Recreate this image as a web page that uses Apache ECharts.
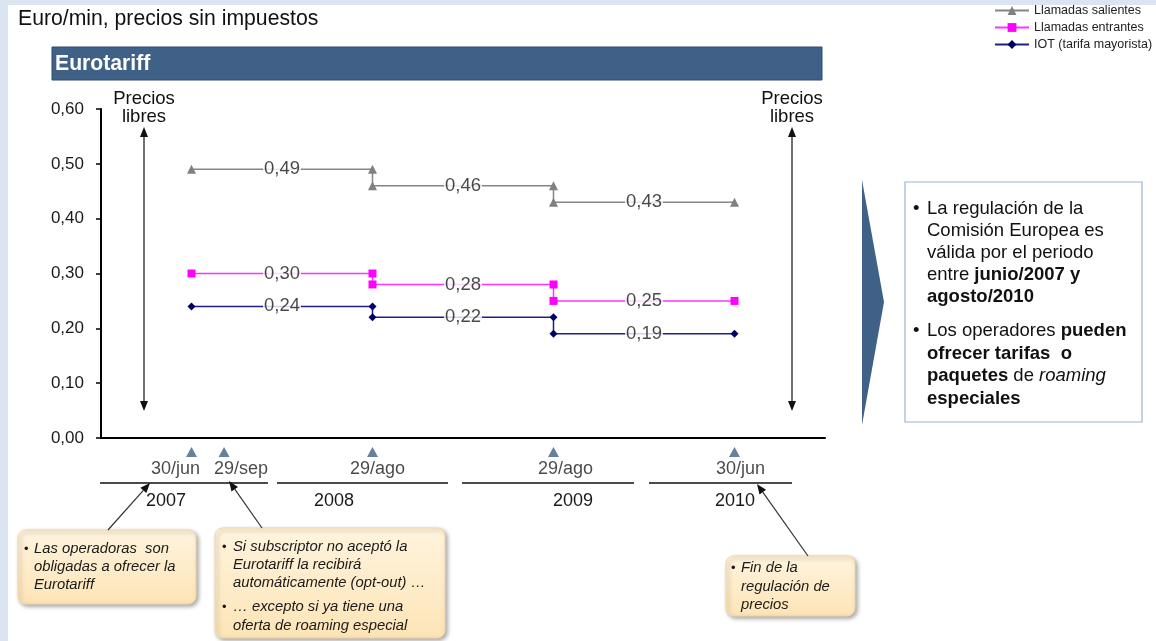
<!DOCTYPE html>
<html>
<head>
<meta charset="utf-8">
<script src="https://cdn.jsdelivr.net/npm/echarts@6/dist/echarts.min.js"></script>
<style>
html,body{margin:0;padding:0;background:#fff;}
#c{width:1156px;height:641px;}
</style>
</head>
<body>
<div id="c"></div>
<script>
// ---- data ----
const periodStarts = ['30/jun/2007', '29/ago/2008', '29/ago/2009', '30/jun/2010'];
const salientes = [0.49, 0.46, 0.43];
const entrantes = [0.30, 0.28, 0.25];
const iot = [0.24, 0.22, 0.19];
const seriesNames = ['Llamadas salientes', 'Llamadas entrantes', 'IOT (tarifa mayorista)'];
const yTicks = [0, 0.1, 0.2, 0.3, 0.4, 0.5, 0.6];
const timelineLabels = ['30/jun', '29/sep', '29/ago', '29/ago', '30/jun'];
const timelinePos = [0, 0.18, 1, 2, 3];
const years = ['2007', '2008', '2009', '2010'];

const FONT = 'Liberation Sans, Arial, sans-serif';
const fmt = v => v.toFixed(2).replace('.', ',');

function stepPoints(vals) {
  const pts = [];
  vals.forEach((v, k) => { pts.push([k, v]); pts.push([k + 1, v]); });
  return pts;
}
function midLabels(vals) {
  return vals.map((v, k) => [k + 0.5, v]);
}

const chart = echarts.init(document.getElementById('c'), null, {renderer: 'canvas'});

const labelStyle = {
  show: true, position: 'inside', formatter: p => fmt(p.value[1]),
  fontFamily: FONT, fontSize: 18.5, color: '#1a1a1a',
  backgroundColor: '#ffffff', padding: [0, 1]
};

function lineSeries(name, vals, color, symbol, size, symColor) {
  return {
    name, type: 'line', data: stepPoints(vals), xAxisIndex: 0, yAxisIndex: 0,
    symbol, symbolSize: size, showAllSymbol: true,
    lineStyle: {color, width: 1.5}, itemStyle: {color: symColor || color},
    z: 3, animation: false
  };
}
function labelSeries(vals) {
  return {
    type: 'scatter', data: midLabels(vals), symbolSize: 0, xAxisIndex: 0, yAxisIndex: 0,
    label: labelStyle, z: 5, silent: true, animation: false
  };
}

const timelineData = timelinePos.map((p, i) => ({value: [p, 0.5], name: timelineLabels[i]}));
const timelineOffsets = [[-16, 0], [17, 0], [5, 0], [12, 0], [6, 0]];
timelineData.forEach((d, i) => {
  d.label = {offset: timelineOffsets[i]};
});

function arrowHead(x, y, dir) {
  return {type: 'polygon', shape: {points: [[x - 4, y - dir * 10], [x + 4, y - dir * 10], [x, y]]},
    style: {fill: '#111'}};
}
function slantArrow(x1, y1, x2, y2) {
  const ang = Math.atan2(y2 - y1, x2 - x1);
  const L = 10, W = 4;
  const bx = x2 - L * Math.cos(ang), by = y2 - L * Math.sin(ang);
  const px = -Math.sin(ang) * W, py = Math.cos(ang) * W;
  return [
    {type: 'line', shape: {x1, y1, x2: bx, y2: by}, style: {stroke: '#333', lineWidth: 1.2}},
    {type: 'polygon', shape: {points: [[x2, y2], [bx + px, by + py], [bx - px, by - py]]}, style: {fill: '#111'}}
  ];
}
function callout(x, y, w, h) {
  return {type: 'rect', shape: {x, y, width: w, height: h, r: 8},
    style: {
      fill: new echarts.graphic.LinearGradient(0, 0, 0, 1, [{offset: 0, color: '#fff4de'}, {offset: 1, color: '#fde4b6'}]),
      stroke: '#f3d9a8', lineWidth: 1,
      shadowBlur: 4, shadowOffsetX: 2, shadowOffsetY: 2, shadowColor: 'rgba(0,0,0,0.35)'
    }};
}
function bulletText(bx, tx, yCenterFirst, text, lh) {
  const top = yCenterFirst - lh / 2;
  return [
    {type: 'text', x: bx, y: top, style: {text: '•', fontFamily: FONT, fontSize: 13, fill: '#1a1a1a', lineHeight: lh, verticalAlign: 'top'}},
    {type: 'text', x: tx, y: top, style: {text, fontFamily: FONT, fontStyle: 'italic', fontSize: 14.8,
      fill: '#1a1a1a', lineHeight: lh, verticalAlign: 'top'}}
  ];
}

const yearLines = [[100, 268], [277, 448], [462, 634], [649, 792]];
const yearX = [166, 334, 573, 735];

const graphics = [
  {type: 'rect', shape: {x: 0, y: 0, width: 1156, height: 5}, style: {fill: '#dbe5f1'}, z: -10},
  {type: 'rect', shape: {x: 0, y: 0, width: 8, height: 641}, style: {fill: '#dbe5f1'}, z: -10},
  {type: 'text', x: 18, y: 19, style: {text: 'Euro/min, precios sin impuestos', fontFamily: FONT, fontSize: 21.2, fill: '#111', verticalAlign: 'middle'}},
  {type: 'rect', shape: {x: 52, y: 47, width: 770, height: 33}, style: {fill: '#3f6187', stroke: '#2f4c6e', lineWidth: 1}},
  {type: 'text', x: 55, y: 64, style: {text: 'Eurotariff', fontFamily: FONT, fontWeight: 'bold', fontSize: 21.2, fill: '#fff', verticalAlign: 'middle'}},
  // Precios libres left
  {type: 'text', x: 144, y: 90, style: {text: 'Precios\nlibres', fontFamily: FONT, fontSize: 18.5, fill: '#111', align: 'center', lineHeight: 18, verticalAlign: 'top'}},
  {type: 'line', shape: {x1: 144, y1: 134, x2: 144, y2: 404}, style: {stroke: '#222', lineWidth: 1.3}},
  arrowHead(144, 127, -1), arrowHead(144, 411, 1),
  // Precios libres right
  {type: 'text', x: 792, y: 90, style: {text: 'Precios\nlibres', fontFamily: FONT, fontSize: 18.5, fill: '#111', align: 'center', lineHeight: 18, verticalAlign: 'top'}},
  {type: 'line', shape: {x1: 792, y1: 134, x2: 792, y2: 404}, style: {stroke: '#222', lineWidth: 1.3}},
  arrowHead(792, 127, -1), arrowHead(792, 411, 1),
  // chevron
  {type: 'polygon', shape: {points: [[862, 180], [884, 302], [862, 425]]}, style: {fill: '#3f6187'}},
  // right box
  {type: 'rect', shape: {x: 905, y: 182, width: 237, height: 240}, style: {fill: '#fff', stroke: '#9cb3d2', lineWidth: 1.2}},
  {type: 'text', x: 913, y: 198, style: {text: '•', fontFamily: FONT, fontSize: 18.5, fill: '#111', lineHeight: 22, verticalAlign: 'top'}},
  {type: 'text', x: 927, y: 198, style: {
    text: 'La regulación de la\nComisión Europea es\nválida por el periodo\nentre {b|junio/2007 y}\n{b|agosto/2010}',
    fontFamily: FONT, fontSize: 18.5, fill: '#111', lineHeight: 22, verticalAlign: 'top',
    rich: {b: {fontWeight: 'bold', fontFamily: FONT, fontSize: 18.5, fill: '#111', lineHeight: 22}}}},
  {type: 'text', x: 913, y: 320, style: {text: '•', fontFamily: FONT, fontSize: 18.5, fill: '#111', lineHeight: 22.5, verticalAlign: 'top'}},
  {type: 'text', x: 927, y: 320, style: {
    text: 'Los operadores {b|pueden}\n{b|ofrecer tarifas  o}\n{b|paquetes} de {i|roaming}\n{b|especiales}',
    fontFamily: FONT, fontSize: 18.5, fill: '#111', lineHeight: 22.5, verticalAlign: 'top',
    rich: {b: {fontWeight: 'bold', fontFamily: FONT, fontSize: 18.5, fill: '#111', lineHeight: 22.5},
           i: {fontStyle: 'italic', fontFamily: FONT, fontSize: 18.5, fill: '#111', lineHeight: 22.5}}}},
  // callouts
  callout(18, 530, 178, 74),
  ...bulletText(24, 34, 549, 'Las operadoras  son\nobligadas a ofrecer la\nEurotariff', 18),
  callout(215, 528, 230, 110),
  ...bulletText(222, 233, 547, 'Si subscriptor no aceptó la\nEurotariff la recibirá\nautomáticamente (opt-out) …', 18),
  ...bulletText(222, 233, 607, '… excepto si ya tiene una\noferta de roaming especial', 19),
  callout(726, 556, 129, 60),
  ...bulletText(731, 741, 568, 'Fin de la\nregulación de\nprecios', 18.5),
  ...slantArrow(108, 530, 150, 483),
  ...slantArrow(262, 528, 229, 481),
  ...slantArrow(808, 556, 757, 484)
];
yearLines.forEach(l => graphics.push({type: 'line', shape: {x1: l[0], y1: 483, x2: l[1], y2: 483}, style: {stroke: '#111', lineWidth: 1.3}}));
years.forEach((y, i) => graphics.push({type: 'text', x: yearX[i], y: 501, style: {text: y, fontFamily: FONT, fontSize: 18, fill: '#1a1a1a', align: 'center', verticalAlign: 'middle'}}));

const option = {
  backgroundColor: '#ffffff',
  animation: false,
  textStyle: {fontFamily: FONT},
  legend: {
    data: seriesNames, orient: 'vertical', left: 994, top: 4,
    itemWidth: 34, itemHeight: 11, itemGap: 4, padding: 0,
    textStyle: {fontSize: 12.5, color: '#222', fontFamily: FONT, lineHeight: 13}
  },
  grid: [
    {left: 101, right: 331, top: 109, bottom: 203},
    {left: 101, right: 331, top: 446, height: 12}
  ],
  xAxis: [
    {type: 'value', min: -0.5, max: 3.5, gridIndex: 0,
     axisLine: {show: true, onZero: false, lineStyle: {color: '#000', width: 2}},
     axisTick: {show: false}, axisLabel: {show: false}, splitLine: {show: false}},
    {type: 'value', min: -0.5, max: 3.5, gridIndex: 1, show: false}
  ],
  yAxis: [
    {type: 'value', min: 0, max: 0.6, interval: 0.1, gridIndex: 0,
     axisLine: {show: true, onZero: false, lineStyle: {color: '#000', width: 2}},
     axisTick: {show: true, length: 5, lineStyle: {color: '#000', width: 1.5}},
     axisLabel: {formatter: fmt, fontSize: 17, color: '#1a1a1a', margin: 17, fontFamily: FONT},
     splitLine: {show: false}},
    {type: 'value', min: 0, max: 1, gridIndex: 1, show: false}
  ],
  graphic: graphics,
  series: [
    lineSeries(seriesNames[0], salientes, '#858585', 'triangle', 9, '#808080'),
    lineSeries(seriesNames[1], entrantes, '#ff33ff', 'rect', 8, '#ff00ff'),
    lineSeries(seriesNames[2], iot, '#1f1f8a', 'diamond', 8, '#000066'),
    labelSeries(salientes), labelSeries(entrantes), labelSeries(iot),
    {type: 'scatter', xAxisIndex: 1, yAxisIndex: 1, data: timelineData,
     symbol: 'triangle', symbolSize: [11, 10], itemStyle: {color: '#3f6187'},
     label: {show: true, position: 'bottom', distance: 3, formatter: p => p.name,
             fontSize: 18, color: '#1a1a1a', fontFamily: FONT},
     silent: true, animation: false}
  ]
};
chart.setOption(option);
</script>
</body>
</html>
